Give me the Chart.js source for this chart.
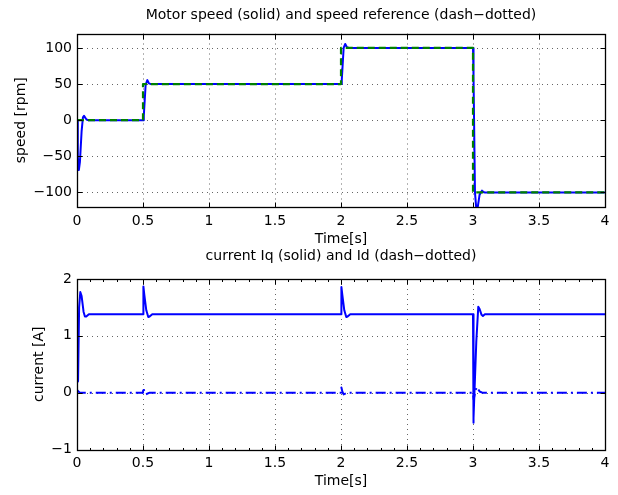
<!DOCTYPE html>
<html><head><meta charset="utf-8">
<script src="https://cdn.jsdelivr.net/npm/chart.js@4.4.1/dist/chart.umd.min.js"></script>
<style>
html,body{margin:0;padding:0;background:#fff;width:618px;height:495px;overflow:hidden;}
canvas{position:absolute;left:0;}
#c1{top:0;}
#c2{top:240px;}
</style></head><body>
<canvas id="c1" width="618" height="250"></canvas>
<canvas id="c2" width="618" height="255"></canvas>
<script>
// ---- data ----
const xTicks = [0, 0.5, 1, 1.5, 2, 2.5, 3, 3.5, 4];
const xTickLabels = ['0', '0.5', '1', '1.5', '2', '2.5', '3', '3.5', '4'];
const speedTicks = [-100, -50, 0, 50, 100];
const speedTickLabels = ['\u2212100', '\u221250', '0', '50', '100'];
const currentTicks = [-1, 0, 1, 2];
const currentTickLabels = ['\u22121', '0', '1', '2'];

const refT = [0, 0.5, 0.5, 2, 2, 3, 3, 4];
const refV = [0, 0, 50, 50, 100, 100, -100, -100];

const speedT = [0, 0.006, 0.014, 0.022, 0.035, 0.045, 0.053, 0.062, 0.072, 0.085,
  0.5, 0.506, 0.52, 0.533, 0.545, 0.56,
  2.0, 2.006, 2.02, 2.032, 2.045, 2.06,
  3.0, 3.004, 3.015, 3.028, 3.05, 3.068, 3.08, 3.09, 4];
const speedV = [0, -50, -69, -58, -15, 4, 6, 3.5, 1, 0,
  0, 6, 49, 55.5, 51, 50,
  50, 56, 100, 105.5, 101, 100,
  100, 60, -100, -130, -103, -97.5, -99.5, -100, -100];

const iqT = [0, 0.008, 0.016, 0.025, 0.035, 0.05, 0.06, 0.07, 0.09,
  0.5, 0.503, 0.51, 0.525, 0.54, 0.55, 0.57,
  2.0, 2.003, 2.01, 2.025, 2.04, 2.05, 2.07,
  3.0, 3.002, 3.006, 3.025, 3.04, 3.05, 3.065, 3.075, 3.09, 4];
const iqV = [0.18, 0.2, 1.5, 1.77, 1.7, 1.42, 1.34, 1.34, 1.38,
  1.38, 1.87, 1.72, 1.45, 1.33, 1.34, 1.38,
  1.38, 1.86, 1.72, 1.45, 1.33, 1.34, 1.38,
  1.38, -0.53, -0.45, 0.9, 1.51, 1.47, 1.37, 1.35, 1.38, 1.38];

const idT = [0, 0.02, 0.5, 0.503, 0.51, 0.52, 0.55, 2.0, 2.003, 2.01, 2.02, 2.05,
  3.0, 3.005, 3.02, 3.03, 3.05, 3.07, 4];
const idV = [0.05, 0, 0, 0.09, 0.02, -0.03, 0, 0, 0.09, 0.02, -0.03, 0,
  0, -0.12, 0.05, 0.1, 0.02, 0, 0];

const pts = (t, v) => t.map((x, i) => ({x: x, y: v[i]}));
const FONT = 'DejaVu Sans';

// frame, inward ticks, dotted grid
const framePlugin = {
  id: 'frame',
  beforeDatasetsDraw(chart) {
    const {ctx, chartArea: a, scales} = chart;
    ctx.save();
    ctx.strokeStyle = 'rgba(0,0,0,0.6)';
    ctx.lineWidth = 1;
    ctx.setLineDash([1, 4]);
    scales.x.ticks.forEach(t => {
      const px = Math.round(scales.x.getPixelForValue(t.value)) + 0.5;
      if (px <= a.left + 1 || px >= a.right - 1) return;
      ctx.beginPath(); ctx.moveTo(px, a.top); ctx.lineTo(px, a.bottom); ctx.stroke();
    });
    scales.y.ticks.forEach(t => {
      const py = Math.round(scales.y.getPixelForValue(t.value)) + 0.5;
      if (py <= a.top + 1 || py >= a.bottom - 1) return;
      ctx.beginPath(); ctx.moveTo(a.left, py); ctx.lineTo(a.right, py); ctx.stroke();
    });
    ctx.restore();
  },
  afterDatasetsDraw(chart, args, opts) {
    const {ctx, chartArea: a, scales} = chart;
    const L = Math.round(a.left) + 0.5, R = Math.round(a.right) + 0.5;
    const T = Math.round(a.top) + 0.5, B = Math.round(a.bottom) + 0.5;
    ctx.save();
    ctx.strokeStyle = '#000';
    ctx.lineWidth = 1;
    ctx.setLineDash([]);
    ctx.beginPath();
    if (opts.minorX) {
      for (let v = 0; v <= 4.0001; v += 0.1) {
        const px = Math.round(scales.x.getPixelForValue(v)) + 0.5;
        ctx.moveTo(px, T); ctx.lineTo(px, T + 2.5);
        ctx.moveTo(px, B); ctx.lineTo(px, B - 2.5);
      }
    }
    scales.x.ticks.forEach(t => {
      const px = Math.round(scales.x.getPixelForValue(t.value)) + 0.5;
      ctx.moveTo(px, T); ctx.lineTo(px, T + 5);
      ctx.moveTo(px, B); ctx.lineTo(px, B - 5);
    });
    scales.y.ticks.forEach(t => {
      const py = Math.round(scales.y.getPixelForValue(t.value)) + 0.5;
      ctx.moveTo(L, py); ctx.lineTo(L + 5, py);
      ctx.moveTo(R, py); ctx.lineTo(R - 5, py);
    });
    ctx.stroke();
    ctx.lineWidth = 1.3;
    ctx.strokeRect(L, T, R - L, B - T);
    ctx.restore();
  }
};

function makeChart(id, cfg) {
  return new Chart(document.getElementById(id), {
    type: 'line',
    data: {datasets: cfg.datasets},
    plugins: [framePlugin],
    options: {
      responsive: false,
      animation: false,
      events: [],
      layout: {padding: {left: 0, right: 13, top: 0, bottom: 0}},
      elements: {point: {radius: 0}, line: {tension: 0, borderJoinStyle: 'round', borderCapStyle: 'butt'}},
      plugins: {
        legend: {display: false},
        tooltip: {enabled: false},
        frame: {minorX: cfg.minorX},
        title: {
          display: true, text: cfg.title, fullSize: false, color: '#000',
          font: {family: FONT, size: 14, weight: 'normal'},
          padding: {top: cfg.titlePadTop, bottom: cfg.titlePadBottom}
        }
      },
      scales: {
        x: {
          type: 'linear', min: 0, max: 4,
          grid: {display: false, drawTicks: false},
          border: {display: false},
          afterBuildTicks: s => { s.ticks = xTicks.map(v => ({value: v})); },
          afterFit: s => { s.height = cfg.xHeight; },
          ticks: {
            color: '#000', font: {family: FONT, size: 14}, padding: cfg.xTickPad,
            maxRotation: 0, autoSkip: false,
            callback: v => xTickLabels[xTicks.indexOf(v)]
          },
          title: {display: true, text: 'Time[s]', color: '#000',
            font: {family: FONT, size: 14}, padding: {top: 0, bottom: cfg.xTitlePad}}
        },
        y: {
          type: 'linear', min: cfg.yMin, max: cfg.yMax,
          grid: {display: false, drawTicks: false},
          border: {display: false},
          afterBuildTicks: s => { s.ticks = cfg.yTicks.map(v => ({value: v})); },
          afterFit: s => { s.width = 77; },
          ticks: {
            color: '#000', font: {family: FONT, size: 14}, padding: 5, autoSkip: false,
            callback: v => cfg.yLabels[cfg.yTicks.indexOf(v)]
          },
          title: {display: true, text: cfg.yTitle, color: '#000',
            font: {family: FONT, size: 14}, padding: {top: cfg.yTitlePad, bottom: 0}}
        }
      }
    }
  });
}

makeChart('c1', {
  title: 'Motor speed (solid) and speed reference (dash\u2212dotted)',
  titlePadTop: 7, titlePadBottom: 9.7,
  xHeight: 43.1, xTickPad: 6.5, xTitlePad: 2.1,
  yMin: -120, yMax: 120, yTicks: speedTicks, yLabels: speedTickLabels,
  yTitle: 'speed [rpm]', yTitlePad: 12.6, minorX: false,
  datasets: [
    {label: 'speed reference', data: pts(refT, refV), borderColor: '#008000',
     borderWidth: 2.2, borderDash: [7, 4], clip: 0},
    {label: 'motor speed', data: pts(speedT, speedV), borderColor: '#0000ff',
     borderWidth: 2, clip: 0}
  ]
});

makeChart('c2', {
  title: 'current Iq (solid) and Id (dash\u2212dotted)',
  titlePadTop: 7.6, titlePadBottom: 14.6,
  xHeight: 45.5, xTickPad: 5.6, xTitlePad: 5.6,
  yMin: -1, yMax: 2, yTicks: currentTicks, yLabels: currentTickLabels,
  yTitle: 'current [A]', yTitlePad: 30.6, minorX: true,
  datasets: [
    {label: 'Iq', data: pts(iqT, iqV), borderColor: '#0000ff', borderWidth: 2, clip: 0},
    {label: 'Id', data: pts(idT, idV), borderColor: '#0000ff', borderWidth: 2,
     borderDash: [10, 4, 2, 4], clip: 0}
  ]
});
</script>
</body></html>
